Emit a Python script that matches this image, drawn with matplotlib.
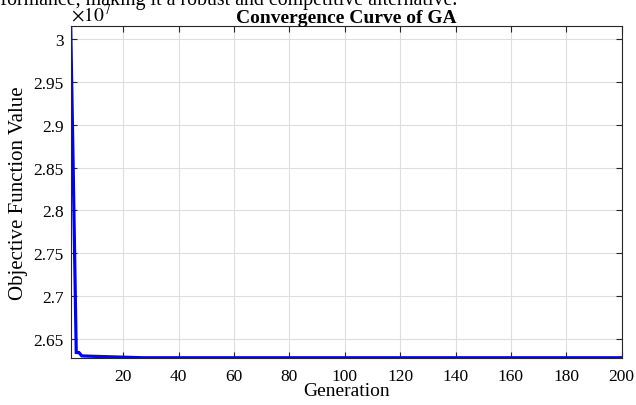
import matplotlib

matplotlib.use("Agg")
import matplotlib.pyplot as plt
from matplotlib.ticker import FuncFormatter, MultipleLocator

# best objective value per generation (GA run, 200 generations)
first_gens = [30153000, 28300000, 26340000, 26338000, 26300000, 26298000,
              26297000, 26296000, 26295000, 26294000, 26294000, 26293000,
              26292000, 26291000, 26290000, 26289000, 26288000, 26287000,
              26286000, 26285000, 26284000, 26283000, 26282000, 26281000,
              26280000, 26279000]
final_value = 26278000
n_generations = 200
best_fitness = first_gens + [final_value] * (n_generations - len(first_gens))
generations = list(range(1, n_generations + 1))

plt.rcParams["font.family"] = ["Liberation Serif", "DejaVu Serif"]
plt.rcParams["mathtext.fontset"] = "stix"

fig = plt.figure(figsize=(6.36, 4.06), dpi=100)
ax = fig.add_axes([70.7 / 636, 1 - 359 / 406, 551 / 636, 332 / 406])

ax.plot(generations, best_fitness, color="#0000ff", lw=2.3, solid_joinstyle="miter")
ax.set_xlim(1, n_generations)
ax.set_ylim(min(best_fitness) - 3000, max(best_fitness))

ax.yaxis.set_major_locator(MultipleLocator(0.05e7))
ax.yaxis.set_major_formatter(FuncFormatter(lambda v, _: f"{v / 1e7:g}"))
ax.set_xticks(range(20, 201, 20))

ax.grid(True, color="#dedede", lw=0.8)
ax.set_axisbelow(True)
ax.tick_params(direction="in", top=True, right=True, length=4, width=0.8,
               color="#262626", labelsize=12.5)
ax.tick_params(axis="x", pad=7)
ax.tick_params(axis="y", pad=5)
for s in ax.spines.values():
    s.set_color("#262626")
    s.set_linewidth(0.8)

ax.set_xlabel("Generation", fontsize=14, labelpad=-1)
ax.set_ylabel("Objective Function Value", fontsize=15, labelpad=4)
ax.set_title("Convergence Curve of GA", fontsize=14, fontweight="bold", pad=3)
ax.text(0.0, 1.003, r"$\times 10^{7}$", transform=ax.transAxes, fontsize=14,
        ha="left", va="bottom")

# line of body text cut off above the figure
fig.text(457 / 636, 1 - 5 / 406,
         "performance, making it a robust and competitive alternative.",
         fontsize=14.3, ha="right", va="baseline")

fig.savefig("out.png", dpi=100)
